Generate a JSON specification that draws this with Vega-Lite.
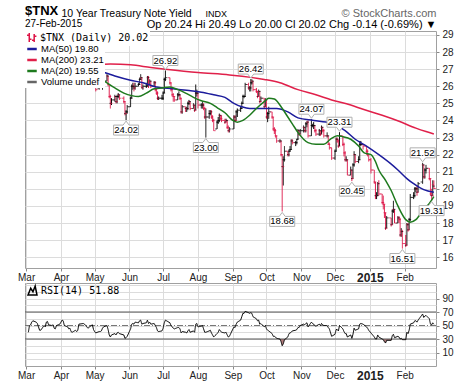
{
"$schema":"https://vega.github.io/schema/vega-lite/v6.json",
"background":"white",
"padding":{"left":17,"top":4,"right":0,"bottom":0},
"bounds":"flush",
"spacing":15,
"resolve":{"scale":{"strokeDash":"independent","color":"independent"},"legend":{"strokeDash":"independent","color":"independent"}},
"config":{"view":{"stroke":"#a0a0a0","strokeWidth":1},"font":"Liberation Sans","axis":{"domain":false,"labelFont":"Liberation Sans","labelFontSize":10,"labelColor":"#222","gridColor":"#dcdcdc","tickColor":"#888","tickSize":3}},
"title":{"text":"$TNX","subtitle":"27-Feb-2015","anchor":"start","frame":"group","offset":-22,"font":"Liberation Sans","fontSize":13,"fontWeight":"bold","color":"black","subtitleFont":"Liberation Sans","subtitleFontSize":10,"subtitleColor":"black","subtitlePadding":1},
"datasets":{
"px":[
{"d":"2014-03-03","o":26.3,"h":26.4,"l":25.9,"c":26.0,"r":40},
{"d":"2014-03-04","o":26.2,"h":27.1,"l":26.1,"c":27.0,"r":50},
{"d":"2014-03-05","o":27.0,"h":27.1,"l":26.7,"c":27.0,"r":51},
{"d":"2014-03-06","o":27.0,"h":27.5,"l":26.9,"c":27.4,"r":55},
{"d":"2014-03-07","o":27.6,"h":28.1,"l":27.5,"c":27.9,"r":57},
{"d":"2014-03-10","o":27.8,"h":27.9,"l":27.6,"c":27.8,"r":55},
{"d":"2014-03-11","o":27.8,"h":27.9,"l":27.6,"c":27.7,"r":53},
{"d":"2014-03-12","o":27.6,"h":27.7,"l":27.2,"c":27.3,"r":48},
{"d":"2014-03-13","o":27.3,"h":27.4,"l":26.4,"c":26.5,"r":43},
{"d":"2014-03-14","o":26.5,"h":26.7,"l":26.3,"c":26.5,"r":43},
{"d":"2014-03-17","o":26.7,"h":27.0,"l":26.6,"c":26.9,"r":50},
{"d":"2014-03-18","o":26.9,"h":26.9,"l":26.6,"c":26.7,"r":48},
{"d":"2014-03-19","o":26.7,"h":27.8,"l":26.6,"c":27.7,"r":55},
{"d":"2014-03-20","o":27.7,"h":28.0,"l":27.6,"c":27.9,"r":56},
{"d":"2014-03-21","o":27.8,"h":27.9,"l":27.3,"c":27.4,"r":51},
{"d":"2014-03-24","o":27.4,"h":27.5,"l":27.2,"c":27.3,"r":50},
{"d":"2014-03-25","o":27.3,"h":27.6,"l":27.2,"c":27.5,"r":51},
{"d":"2014-03-26","o":27.5,"h":27.5,"l":26.9,"c":26.9,"r":46},
{"d":"2014-03-27","o":26.9,"h":27.0,"l":26.6,"c":26.8,"r":45},
{"d":"2014-03-28","o":26.8,"h":27.3,"l":26.8,"c":27.2,"r":50},
{"d":"2014-03-31","o":27.2,"h":27.4,"l":27.1,"c":27.2,"r":52},
{"d":"2014-04-01","o":27.3,"h":27.7,"l":27.2,"c":27.6,"r":55},
{"d":"2014-04-02","o":27.6,"h":28.1,"l":27.5,"c":28.0,"r":58},
{"d":"2014-04-03","o":28.0,"h":28.2,"l":27.9,"c":28.0,"r":57},
{"d":"2014-04-04","o":28.0,"h":28.1,"l":27.1,"c":27.2,"r":50},
{"d":"2014-04-07","o":27.2,"h":27.3,"l":26.9,"c":27.0,"r":48},
{"d":"2014-04-08","o":27.0,"h":27.1,"l":26.7,"c":26.8,"r":45},
{"d":"2014-04-09","o":26.8,"h":27.0,"l":26.7,"c":26.9,"r":46},
{"d":"2014-04-10","o":26.9,"h":26.9,"l":26.2,"c":26.3,"r":41},
{"d":"2014-04-11","o":26.3,"h":26.4,"l":26.1,"c":26.2,"r":40},
{"d":"2014-04-14","o":26.3,"h":26.6,"l":26.2,"c":26.5,"r":43},
{"d":"2014-04-15","o":26.5,"h":26.6,"l":26.2,"c":26.3,"r":41},
{"d":"2014-04-16","o":26.3,"h":26.5,"l":26.3,"c":26.4,"r":43},
{"d":"2014-04-17","o":26.4,"h":27.3,"l":26.4,"c":27.2,"r":52},
{"d":"2014-04-21","o":27.2,"h":27.3,"l":27.0,"c":27.2,"r":53},
{"d":"2014-04-22","o":27.2,"h":27.3,"l":27.1,"c":27.2,"r":52},
{"d":"2014-04-23","o":27.2,"h":27.2,"l":26.9,"c":27.0,"r":50},
{"d":"2014-04-24","o":27.0,"h":27.1,"l":26.7,"c":26.8,"r":48},
{"d":"2014-04-25","o":26.8,"h":26.8,"l":26.5,"c":26.6,"r":46},
{"d":"2014-04-28","o":26.6,"h":27.0,"l":26.6,"c":26.9,"r":50},
{"d":"2014-04-29","o":26.9,"h":27.1,"l":26.8,"c":27.0,"r":51},
{"d":"2014-04-30","o":27.0,"h":27.0,"l":26.4,"c":26.5,"r":44},
{"d":"2014-05-01","o":26.4,"h":26.5,"l":26.0,"c":26.1,"r":41},
{"d":"2014-05-02","o":26.1,"h":26.5,"l":25.7,"c":25.8,"r":39},
{"d":"2014-05-05","o":25.9,"h":26.1,"l":25.8,"c":26.0,"r":41},
{"d":"2014-05-06","o":26.0,"h":26.2,"l":25.9,"c":26.0,"r":41},
{"d":"2014-05-07","o":26.0,"h":26.1,"l":25.9,"c":26.0,"r":42},
{"d":"2014-05-08","o":26.0,"h":26.3,"l":25.8,"c":26.2,"r":46},
{"d":"2014-05-09","o":26.2,"h":26.4,"l":26.1,"c":26.3,"r":48},
{"d":"2014-05-12","o":26.3,"h":26.7,"l":26.3,"c":26.6,"r":50},
{"d":"2014-05-13","o":26.6,"h":26.6,"l":26.0,"c":26.1,"r":44},
{"d":"2014-05-14","o":26.1,"h":26.1,"l":25.3,"c":25.4,"r":36},
{"d":"2014-05-15","o":25.4,"h":25.5,"l":24.7,"c":25.0,"r":33},
{"d":"2014-05-16","o":25.0,"h":25.3,"l":24.9,"c":25.2,"r":36},
{"d":"2014-05-19","o":25.2,"h":25.5,"l":25.1,"c":25.4,"r":38},
{"d":"2014-05-20","o":25.4,"h":25.4,"l":25.0,"c":25.1,"r":36},
{"d":"2014-05-21","o":25.1,"h":25.5,"l":25.0,"c":25.4,"r":39},
{"d":"2014-05-22","o":25.4,"h":25.6,"l":25.3,"c":25.5,"r":40},
{"d":"2014-05-23","o":25.5,"h":25.5,"l":25.2,"c":25.3,"r":38},
{"d":"2014-05-27","o":25.3,"h":25.4,"l":25.0,"c":25.1,"r":36},
{"d":"2014-05-28","o":25.1,"h":25.1,"l":24.3,"c":24.4,"r":31},
{"d":"2014-05-29","o":24.4,"h":24.6,"l":24.02,"c":24.5,"r":32},
{"d":"2014-05-30","o":24.5,"h":24.9,"l":24.4,"c":24.8,"r":34},
{"d":"2014-06-02","o":24.8,"h":25.4,"l":24.8,"c":25.3,"r":45},
{"d":"2014-06-03","o":25.3,"h":26.1,"l":25.3,"c":26.0,"r":52},
{"d":"2014-06-04","o":26.0,"h":26.2,"l":25.8,"c":26.0,"r":53},
{"d":"2014-06-05","o":26.0,"h":26.2,"l":25.7,"c":25.9,"r":52},
{"d":"2014-06-06","o":25.9,"h":26.2,"l":25.8,"c":26.0,"r":55},
{"d":"2014-06-09","o":26.0,"h":26.2,"l":26.0,"c":26.1,"r":54},
{"d":"2014-06-10","o":26.1,"h":26.5,"l":26.1,"c":26.4,"r":57},
{"d":"2014-06-11","o":26.4,"h":26.7,"l":26.4,"c":26.5,"r":58},
{"d":"2014-06-12","o":26.5,"h":26.5,"l":25.9,"c":25.9,"r":52},
{"d":"2014-06-13","o":25.9,"h":26.1,"l":25.8,"c":26.0,"r":53},
{"d":"2014-06-16","o":26.0,"h":26.2,"l":25.9,"c":26.0,"r":54},
{"d":"2014-06-17","o":26.0,"h":26.6,"l":26.0,"c":26.5,"r":58},
{"d":"2014-06-18","o":26.5,"h":26.6,"l":25.9,"c":26.1,"r":53},
{"d":"2014-06-19","o":26.1,"h":26.4,"l":26.1,"c":26.3,"r":55},
{"d":"2014-06-20","o":26.3,"h":26.3,"l":25.9,"c":26.0,"r":52},
{"d":"2014-06-23","o":26.0,"h":26.3,"l":26.0,"c":26.2,"r":53},
{"d":"2014-06-24","o":26.2,"h":26.3,"l":25.7,"c":25.8,"r":50},
{"d":"2014-06-25","o":25.8,"h":25.9,"l":25.5,"c":25.6,"r":47},
{"d":"2014-06-26","o":25.6,"h":25.7,"l":25.2,"c":25.3,"r":42},
{"d":"2014-06-27","o":25.3,"h":25.4,"l":25.2,"c":25.3,"r":41},
{"d":"2014-06-30","o":25.3,"h":25.5,"l":25.2,"c":25.3,"r":42},
{"d":"2014-07-01","o":25.3,"h":25.7,"l":25.2,"c":25.6,"r":46},
{"d":"2014-07-02","o":25.6,"h":26.5,"l":25.6,"c":26.4,"r":54},
{"d":"2014-07-03","o":26.4,"h":26.92,"l":26.3,"c":26.5,"r":58},
{"d":"2014-07-07","o":26.5,"h":26.5,"l":26.1,"c":26.2,"r":54},
{"d":"2014-07-08","o":26.2,"h":26.2,"l":25.7,"c":25.8,"r":50},
{"d":"2014-07-09","o":25.8,"h":25.9,"l":25.4,"c":25.5,"r":48},
{"d":"2014-07-10","o":25.5,"h":25.6,"l":25.1,"c":25.4,"r":46},
{"d":"2014-07-11","o":25.4,"h":25.4,"l":25.1,"c":25.2,"r":45},
{"d":"2014-07-14","o":25.2,"h":25.6,"l":25.2,"c":25.5,"r":47},
{"d":"2014-07-15","o":25.5,"h":25.7,"l":25.4,"c":25.5,"r":47},
{"d":"2014-07-16","o":25.5,"h":25.5,"l":25.2,"c":25.3,"r":45},
{"d":"2014-07-17","o":25.3,"h":25.3,"l":24.4,"c":24.5,"r":39},
{"d":"2014-07-18","o":24.5,"h":24.9,"l":24.4,"c":24.8,"r":41},
{"d":"2014-07-21","o":24.8,"h":24.8,"l":24.5,"c":24.7,"r":40},
{"d":"2014-07-22","o":24.7,"h":24.8,"l":24.5,"c":24.7,"r":39},
{"d":"2014-07-23","o":24.7,"h":25.1,"l":24.6,"c":25.0,"r":42},
{"d":"2014-07-24","o":25.0,"h":25.2,"l":24.9,"c":25.1,"r":44},
{"d":"2014-07-25","o":25.1,"h":25.1,"l":24.6,"c":24.7,"r":40},
{"d":"2014-07-28","o":24.7,"h":25.0,"l":24.7,"c":24.9,"r":42},
{"d":"2014-07-29","o":24.9,"h":24.9,"l":24.5,"c":24.6,"r":40},
{"d":"2014-07-30","o":24.6,"h":26.1,"l":24.6,"c":25.6,"r":52},
{"d":"2014-07-31","o":25.6,"h":25.8,"l":25.4,"c":25.6,"r":53},
{"d":"2014-08-01","o":25.6,"h":25.6,"l":24.7,"c":24.9,"r":48},
{"d":"2014-08-04","o":24.9,"h":25.0,"l":24.7,"c":24.9,"r":49},
{"d":"2014-08-05","o":24.9,"h":25.1,"l":24.7,"c":24.9,"r":50},
{"d":"2014-08-06","o":24.9,"h":25.0,"l":24.6,"c":24.7,"r":45},
{"d":"2014-08-07","o":24.7,"h":24.8,"l":24.1,"c":24.2,"r":40},
{"d":"2014-08-08","o":24.2,"h":24.7,"l":23.0,"c":24.2,"r":40},
{"d":"2014-08-11","o":24.2,"h":24.6,"l":24.1,"c":24.4,"r":42},
{"d":"2014-08-12","o":24.4,"h":24.6,"l":24.3,"c":24.5,"r":43},
{"d":"2014-08-13","o":24.5,"h":24.6,"l":24.1,"c":24.2,"r":39},
{"d":"2014-08-14","o":24.2,"h":24.3,"l":23.9,"c":24.0,"r":36},
{"d":"2014-08-15","o":24.0,"h":24.1,"l":23.4,"c":23.4,"r":33},
{"d":"2014-08-18","o":23.5,"h":24.0,"l":23.5,"c":23.9,"r":38},
{"d":"2014-08-19","o":23.9,"h":24.2,"l":23.8,"c":24.0,"r":40},
{"d":"2014-08-20","o":24.0,"h":24.4,"l":23.9,"c":24.3,"r":44},
{"d":"2014-08-21","o":24.3,"h":24.3,"l":24.0,"c":24.1,"r":42},
{"d":"2014-08-22","o":24.1,"h":24.3,"l":23.9,"c":24.0,"r":40},
{"d":"2014-08-25","o":24.0,"h":24.1,"l":23.8,"c":23.9,"r":39},
{"d":"2014-08-26","o":23.9,"h":24.1,"l":23.9,"c":24.0,"r":40},
{"d":"2014-08-27","o":24.0,"h":24.0,"l":23.5,"c":23.6,"r":36},
{"d":"2014-08-28","o":23.6,"h":23.7,"l":23.3,"c":23.4,"r":33},
{"d":"2014-08-29","o":23.4,"h":23.6,"l":23.3,"c":23.5,"r":34},
{"d":"2014-09-02","o":23.5,"h":24.3,"l":23.5,"c":24.2,"r":48},
{"d":"2014-09-03","o":24.2,"h":24.3,"l":23.9,"c":24.0,"r":47},
{"d":"2014-09-04","o":24.0,"h":24.6,"l":24.0,"c":24.5,"r":52},
{"d":"2014-09-05","o":24.5,"h":24.7,"l":24.2,"c":24.6,"r":55},
{"d":"2014-09-08","o":24.6,"h":24.8,"l":24.5,"c":24.7,"r":58},
{"d":"2014-09-09","o":24.7,"h":25.1,"l":24.7,"c":25.0,"r":63},
{"d":"2014-09-10","o":25.0,"h":25.5,"l":25.0,"c":25.4,"r":68},
{"d":"2014-09-11","o":25.4,"h":25.5,"l":25.3,"c":25.4,"r":68},
{"d":"2014-09-12","o":25.4,"h":26.2,"l":25.4,"c":26.1,"r":71},
{"d":"2014-09-15","o":26.1,"h":26.2,"l":25.8,"c":25.9,"r":69},
{"d":"2014-09-16","o":25.9,"h":26.0,"l":25.7,"c":25.9,"r":68},
{"d":"2014-09-17","o":25.9,"h":26.42,"l":25.7,"c":26.2,"r":69},
{"d":"2014-09-18","o":26.2,"h":26.4,"l":26.1,"c":26.3,"r":68},
{"d":"2014-09-19","o":26.3,"h":26.3,"l":25.7,"c":25.8,"r":63},
{"d":"2014-09-22","o":25.8,"h":25.9,"l":25.6,"c":25.7,"r":60},
{"d":"2014-09-23","o":25.7,"h":25.7,"l":25.3,"c":25.4,"r":57},
{"d":"2014-09-24","o":25.4,"h":25.8,"l":25.4,"c":25.7,"r":58},
{"d":"2014-09-25","o":25.7,"h":25.7,"l":25.0,"c":25.1,"r":52},
{"d":"2014-09-26","o":25.1,"h":25.4,"l":25.1,"c":25.3,"r":53},
{"d":"2014-09-29","o":25.3,"h":25.3,"l":24.7,"c":24.8,"r":48},
{"d":"2014-09-30","o":24.8,"h":25.3,"l":24.8,"c":25.2,"r":50},
{"d":"2014-10-01","o":25.2,"h":25.2,"l":24.1,"c":24.2,"r":45},
{"d":"2014-10-02","o":24.2,"h":24.5,"l":23.9,"c":24.4,"r":43},
{"d":"2014-10-03","o":24.4,"h":24.8,"l":24.1,"c":24.5,"r":42},
{"d":"2014-10-06","o":24.5,"h":24.5,"l":24.1,"c":24.2,"r":38},
{"d":"2014-10-07","o":24.2,"h":24.2,"l":23.4,"c":23.5,"r":34},
{"d":"2014-10-08","o":23.5,"h":23.6,"l":23.2,"c":23.4,"r":34},
{"d":"2014-10-09","o":23.4,"h":23.5,"l":23.0,"c":23.1,"r":33},
{"d":"2014-10-10","o":23.1,"h":23.1,"l":22.7,"c":22.8,"r":31},
{"d":"2014-10-13","o":22.8,"h":22.9,"l":22.7,"c":22.8,"r":30},
{"d":"2014-10-14","o":22.8,"h":22.8,"l":21.9,"c":22.0,"r":26},
{"d":"2014-10-15","o":22.0,"h":22.0,"l":18.68,"c":21.3,"r":20},
{"d":"2014-10-16","o":21.3,"h":21.9,"l":20.2,"c":21.7,"r":23},
{"d":"2014-10-17","o":21.7,"h":22.5,"l":21.6,"c":22.2,"r":29},
{"d":"2014-10-20","o":22.2,"h":22.2,"l":21.9,"c":22.0,"r":33},
{"d":"2014-10-21","o":22.0,"h":22.3,"l":21.9,"c":22.2,"r":38},
{"d":"2014-10-22","o":22.2,"h":22.5,"l":22.2,"c":22.3,"r":39},
{"d":"2014-10-23","o":22.3,"h":22.9,"l":22.3,"c":22.8,"r":40},
{"d":"2014-10-24","o":22.8,"h":22.9,"l":22.6,"c":22.7,"r":42},
{"d":"2014-10-27","o":22.7,"h":22.8,"l":22.5,"c":22.7,"r":43},
{"d":"2014-10-28","o":22.7,"h":22.9,"l":22.6,"c":22.9,"r":44},
{"d":"2014-10-29","o":22.9,"h":23.5,"l":22.9,"c":23.4,"r":47},
{"d":"2014-10-30","o":23.4,"h":23.4,"l":23.1,"c":23.2,"r":47},
{"d":"2014-10-31","o":23.2,"h":23.5,"l":23.2,"c":23.4,"r":50},
{"d":"2014-11-03","o":23.4,"h":23.7,"l":23.3,"c":23.6,"r":52},
{"d":"2014-11-04","o":23.6,"h":23.6,"l":23.3,"c":23.4,"r":51},
{"d":"2014-11-05","o":23.4,"h":23.9,"l":23.3,"c":23.8,"r":53},
{"d":"2014-11-06","o":23.8,"h":23.95,"l":23.6,"c":23.9,"r":54},
{"d":"2014-11-07","o":23.9,"h":24.0,"l":23.0,"c":23.1,"r":48},
{"d":"2014-11-10","o":23.1,"h":24.07,"l":23.1,"c":23.7,"r":55},
{"d":"2014-11-11","o":23.7,"h":23.8,"l":23.6,"c":23.7,"r":53},
{"d":"2014-11-12","o":23.7,"h":23.9,"l":23.5,"c":23.7,"r":52},
{"d":"2014-11-13","o":23.7,"h":23.7,"l":23.3,"c":23.4,"r":50},
{"d":"2014-11-14","o":23.4,"h":23.5,"l":23.1,"c":23.2,"r":49},
{"d":"2014-11-17","o":23.2,"h":23.5,"l":23.1,"c":23.4,"r":52},
{"d":"2014-11-18","o":23.4,"h":23.4,"l":23.1,"c":23.2,"r":50},
{"d":"2014-11-19","o":23.2,"h":23.7,"l":23.2,"c":23.6,"r":53},
{"d":"2014-11-20","o":23.6,"h":23.6,"l":23.3,"c":23.4,"r":51},
{"d":"2014-11-21","o":23.4,"h":23.5,"l":23.0,"c":23.1,"r":50},
{"d":"2014-11-24","o":23.1,"h":23.3,"l":23.0,"c":23.1,"r":50},
{"d":"2014-11-25","o":23.1,"h":23.1,"l":22.6,"c":22.6,"r":47},
{"d":"2014-11-26","o":22.6,"h":22.7,"l":22.3,"c":22.4,"r":45},
{"d":"2014-11-28","o":22.4,"h":22.4,"l":21.7,"c":21.8,"r":34},
{"d":"2014-12-01","o":21.8,"h":22.3,"l":21.7,"c":22.2,"r":37},
{"d":"2014-12-02","o":22.2,"h":23.0,"l":22.2,"c":22.9,"r":44},
{"d":"2014-12-03","o":22.9,"h":23.0,"l":22.7,"c":22.8,"r":44},
{"d":"2014-12-04","o":22.8,"h":22.9,"l":22.4,"c":22.5,"r":42},
{"d":"2014-12-05","o":22.5,"h":23.31,"l":22.5,"c":23.1,"r":50},
{"d":"2014-12-08","o":23.1,"h":23.1,"l":22.5,"c":22.6,"r":45},
{"d":"2014-12-09","o":22.6,"h":22.7,"l":21.9,"c":22.1,"r":41},
{"d":"2014-12-10","o":22.1,"h":22.2,"l":21.6,"c":21.7,"r":38},
{"d":"2014-12-11","o":21.7,"h":21.9,"l":21.6,"c":21.7,"r":38},
{"d":"2014-12-12","o":21.7,"h":21.7,"l":20.8,"c":20.8,"r":33},
{"d":"2014-12-15","o":20.8,"h":21.3,"l":20.8,"c":21.1,"r":36},
{"d":"2014-12-16","o":21.1,"h":21.1,"l":20.45,"c":20.6,"r":31},
{"d":"2014-12-17","o":20.6,"h":21.5,"l":20.6,"c":21.4,"r":37},
{"d":"2014-12-18","o":21.4,"h":22.2,"l":21.3,"c":22.0,"r":46},
{"d":"2014-12-19","o":22.0,"h":22.0,"l":21.5,"c":21.6,"r":43},
{"d":"2014-12-22","o":21.6,"h":21.9,"l":21.5,"c":21.7,"r":45},
{"d":"2014-12-23","o":21.7,"h":22.8,"l":21.7,"c":22.6,"r":52},
{"d":"2014-12-24","o":22.6,"h":22.8,"l":22.5,"c":22.6,"r":53},
{"d":"2014-12-26","o":22.6,"h":22.6,"l":22.3,"c":22.5,"r":52},
{"d":"2014-12-29","o":22.5,"h":22.5,"l":22.0,"c":22.2,"r":48},
{"d":"2014-12-30","o":22.2,"h":22.3,"l":21.9,"c":22.0,"r":46},
{"d":"2014-12-31","o":22.0,"h":22.0,"l":21.6,"c":21.7,"r":43},
{"d":"2015-01-02","o":21.7,"h":21.8,"l":20.9,"c":21.1,"r":39},
{"d":"2015-01-05","o":21.1,"h":21.1,"l":20.3,"c":20.4,"r":33},
{"d":"2015-01-06","o":20.4,"h":20.4,"l":19.4,"c":19.6,"r":30},
{"d":"2015-01-07","o":19.6,"h":19.8,"l":19.4,"c":19.6,"r":30},
{"d":"2015-01-08","o":19.6,"h":20.4,"l":19.6,"c":20.3,"r":36},
{"d":"2015-01-09","o":20.3,"h":20.5,"l":19.6,"c":19.7,"r":33},
{"d":"2015-01-12","o":19.7,"h":19.7,"l":19.1,"c":19.2,"r":30},
{"d":"2015-01-13","o":19.2,"h":19.6,"l":18.8,"c":19.1,"r":29},
{"d":"2015-01-14","o":19.1,"h":19.1,"l":18.3,"c":18.6,"r":26},
{"d":"2015-01-15","o":18.6,"h":18.6,"l":17.6,"c":17.7,"r":24},
{"d":"2015-01-16","o":17.7,"h":18.4,"l":17.7,"c":18.3,"r":28},
{"d":"2015-01-20","o":18.3,"h":18.3,"l":17.8,"c":17.9,"r":28},
{"d":"2015-01-21","o":17.9,"h":18.8,"l":17.9,"c":18.7,"r":35},
{"d":"2015-01-22","o":18.7,"h":19.3,"l":18.6,"c":18.8,"r":37},
{"d":"2015-01-23","o":18.8,"h":18.8,"l":18.0,"c":18.0,"r":32},
{"d":"2015-01-26","o":18.0,"h":18.4,"l":18.0,"c":18.3,"r":34},
{"d":"2015-01-27","o":18.3,"h":18.4,"l":18.0,"c":18.2,"r":33},
{"d":"2015-01-28","o":18.2,"h":18.3,"l":17.2,"c":17.3,"r":30},
{"d":"2015-01-29","o":17.3,"h":17.7,"l":17.2,"c":17.5,"r":31},
{"d":"2015-01-30","o":17.5,"h":17.6,"l":16.51,"c":16.8,"r":29},
{"d":"2015-02-02","o":16.8,"h":17.3,"l":16.6,"c":16.7,"r":29},
{"d":"2015-02-03","o":16.7,"h":18.0,"l":16.7,"c":17.9,"r":40},
{"d":"2015-02-04","o":17.9,"h":18.0,"l":17.5,"c":17.6,"r":38},
{"d":"2015-02-05","o":17.6,"h":18.3,"l":17.6,"c":18.2,"r":43},
{"d":"2015-02-06","o":18.2,"h":19.7,"l":18.1,"c":19.5,"r":52},
{"d":"2015-02-09","o":19.5,"h":19.8,"l":19.4,"c":19.6,"r":54},
{"d":"2015-02-10","o":19.6,"h":20.1,"l":19.5,"c":20.0,"r":57},
{"d":"2015-02-11","o":20.0,"h":20.1,"l":19.8,"c":20.0,"r":57},
{"d":"2015-02-12","o":20.0,"h":20.2,"l":19.6,"c":19.8,"r":55},
{"d":"2015-02-13","o":19.8,"h":20.4,"l":19.8,"c":20.3,"r":58},
{"d":"2015-02-17","o":20.4,"h":21.52,"l":20.3,"c":21.4,"r":67},
{"d":"2015-02-18","o":21.4,"h":21.4,"l":20.6,"c":20.7,"r":62},
{"d":"2015-02-19","o":20.7,"h":21.2,"l":20.6,"c":21.1,"r":64},
{"d":"2015-02-20","o":21.1,"h":21.4,"l":20.9,"c":21.2,"r":65},
{"d":"2015-02-23","o":21.2,"h":21.2,"l":20.5,"c":20.6,"r":60},
{"d":"2015-02-24","o":20.6,"h":20.6,"l":19.6,"c":19.7,"r":52},
{"d":"2015-02-25","o":19.7,"h":20.0,"l":19.31,"c":19.6,"r":51},
{"d":"2015-02-26","o":19.6,"h":20.5,"l":19.6,"c":20.16,"r":54},
{"d":"2015-02-27","o":20.24,"h":20.49,"l":20.0,"c":20.02,"r":51.88}
],
"ma50":[
{"d":"2014-03-03","v":27.7},{"d":"2014-03-17","v":27.5},{"d":"2014-03-31","v":27.3},{"d":"2014-04-14","v":27.2},{"d":"2014-04-28","v":27.05},{"d":"2014-05-05","v":26.9},{"d":"2014-05-19","v":26.6},{"d":"2014-06-02","v":26.35},{"d":"2014-06-13","v":26.2},{"d":"2014-06-25","v":25.95},{"d":"2014-07-10","v":25.85},{"d":"2014-07-24","v":25.75},{"d":"2014-08-04","v":25.65},{"d":"2014-08-15","v":25.5},{"d":"2014-08-25","v":25.35},{"d":"2014-09-02","v":25.0},{"d":"2014-09-09","v":24.8},{"d":"2014-09-16","v":24.7},{"d":"2014-09-30","v":24.7},{"d":"2014-10-10","v":24.7},{"d":"2014-10-20","v":24.5},{"d":"2014-10-29","v":24.15},{"d":"2014-11-12","v":24.0},{"d":"2014-11-27","v":23.85},{"d":"2014-12-10","v":23.4},{"d":"2014-12-19","v":22.9},{"d":"2014-12-29","v":22.5},{"d":"2015-01-09","v":22.0},{"d":"2015-01-19","v":21.5},{"d":"2015-01-26","v":21.1},{"d":"2015-02-03","v":20.6},{"d":"2015-02-09","v":20.3},{"d":"2015-02-18","v":19.95},{"d":"2015-02-27","v":19.8}
],
"ma200":[
{"d":"2014-03-03","v":26.8},{"d":"2014-03-31","v":27.05},{"d":"2014-04-30","v":27.25},{"d":"2014-05-15","v":27.3},{"d":"2014-06-02","v":27.25},{"d":"2014-06-20","v":27.1},{"d":"2014-07-03","v":27.0},{"d":"2014-08-01","v":26.8},{"d":"2014-08-29","v":26.66},{"d":"2014-09-29","v":26.4},{"d":"2014-10-13","v":26.2},{"d":"2014-10-29","v":25.8},{"d":"2014-11-14","v":25.5},{"d":"2014-11-28","v":25.2},{"d":"2014-12-15","v":24.9},{"d":"2014-12-26","v":24.65},{"d":"2015-01-12","v":24.3},{"d":"2015-01-27","v":23.95},{"d":"2015-02-11","v":23.55},{"d":"2015-02-20","v":23.35},{"d":"2015-02-27","v":23.21}
],
"ma20":[
{"d":"2014-03-03","v":27.0},{"d":"2014-03-10","v":27.2},{"d":"2014-03-17","v":27.3},{"d":"2014-03-24","v":27.35},{"d":"2014-03-31","v":27.3},{"d":"2014-04-07","v":27.3},{"d":"2014-04-14","v":27.1},{"d":"2014-04-21","v":26.95},{"d":"2014-04-28","v":26.85},{"d":"2014-05-05","v":26.5},{"d":"2014-05-12","v":26.2},{"d":"2014-05-19","v":25.9},{"d":"2014-05-27","v":25.6},{"d":"2014-06-03","v":25.45},{"d":"2014-06-09","v":25.4},{"d":"2014-06-16","v":25.6},{"d":"2014-06-23","v":25.85},{"d":"2014-06-30","v":25.9},{"d":"2014-07-07","v":25.95},{"d":"2014-07-14","v":25.8},{"d":"2014-07-21","v":25.6},{"d":"2014-07-28","v":25.35},{"d":"2014-08-04","v":25.15},{"d":"2014-08-12","v":25.0},{"d":"2014-08-18","v":24.75},{"d":"2014-08-25","v":24.45},{"d":"2014-09-01","v":24.0},{"d":"2014-09-05","v":23.9},{"d":"2014-09-10","v":24.0},{"d":"2014-09-16","v":24.3},{"d":"2014-09-22","v":24.7},{"d":"2014-09-29","v":25.1},{"d":"2014-10-03","v":25.3},{"d":"2014-10-08","v":25.25},{"d":"2014-10-14","v":24.8},{"d":"2014-10-20","v":24.2},{"d":"2014-10-24","v":23.8},{"d":"2014-10-29","v":23.3},{"d":"2014-11-03","v":22.9},{"d":"2014-11-07","v":22.7},{"d":"2014-11-14","v":22.6},{"d":"2014-11-21","v":22.6},{"d":"2014-11-27","v":22.9},{"d":"2014-12-03","v":23.1},{"d":"2014-12-08","v":23.05},{"d":"2014-12-15","v":22.9},{"d":"2014-12-22","v":22.5},{"d":"2014-12-27","v":22.1},{"d":"2015-01-02","v":22.0},{"d":"2015-01-06","v":21.6},{"d":"2015-01-09","v":21.1},{"d":"2015-01-15","v":20.5},{"d":"2015-01-20","v":19.9},{"d":"2015-01-26","v":19.0},{"d":"2015-02-02","v":18.2},{"d":"2015-02-06","v":18.05},{"d":"2015-02-11","v":18.2},{"d":"2015-02-18","v":18.8},{"d":"2015-02-23","v":19.15},{"d":"2015-02-27","v":19.55}
],
"hi":[{"d":"2014-07-03","v":26.92},{"d":"2014-09-17","v":26.42},{"d":"2014-11-10","v":24.07},{"d":"2014-12-05","v":23.31},{"d":"2015-02-17","v":21.52}],
"lo":[{"d":"2014-05-29","v":24.02},{"d":"2014-08-08","v":23.0},{"d":"2014-10-15","v":18.68},{"d":"2014-12-16","v":20.45},{"d":"2015-01-30","v":16.51},{"d":"2015-02-25","v":19.31}],
"lv":[{"v":30},{"v":70}],
"mid":[{"v":50}]
},
"vconcat":[
{
"width":411,"height":237,
"layer":[
{
"data":{"name":"px"},
"transform":[{"window":[{"op":"lag","field":"c","as":"pc"}]}],
"layer":[
{"mark":{"type":"rule","strokeWidth":1},
 "encoding":{
  "x":{"field":"d","type":"temporal","scale":{"type":"utc","domain":[{"year":2014,"month":2,"date":28,"utc":true},{"year":2015,"month":2,"date":28,"hours":22,"utc":true}]},
   "axis":{"orient":"bottom","tickCount":{"interval":"month","step":1},"labelExpr":"utcmonth(datum.value) == 0 ? utcFormat(datum.value, '%Y') : utcFormat(datum.value, '%b')","labelFontWeight":{"condition":{"test":"utcmonth(datum.value) == 0","value":"bold"},"value":"normal"},"labelFontSize":{"condition":{"test":"utcmonth(datum.value) == 0","value":12},"value":10},"labelOverlap":false,"labelFlush":false,"labelAlign":"center","labelPadding":1,"grid":true,
   "title":"10 Year Treasury Note Yield","titleX":36,"titleY":-252,"titleAngle":0,"titleAlign":"left","titleBaseline":"alphabetic","titleFontSize":10.5,"titleFontWeight":"normal","titleColor":"#000","titleLimit":1000,"titleFont":"Liberation Sans"}},
  "y":{"field":"l","type":"quantitative","scale":{"domain":[15.37,29.23],"nice":false,"zero":false},
   "axis":{"orient":"right","values":[16,17,18,19,20,21,22,23,24,25,26,27,28,29],"tickCount":100,"format":"d","grid":true,"labelPadding":3,"labelOverlap":false,
   "title":"Op 20.24   Hi 20.49   Lo 20.00   Cl 20.02   Chg -0.14 (-0.69%) ▼","titleX":0,"titleY":-4,"titleAngle":0,"titleAlign":"right","titleBaseline":"alphabetic","titleFontSize":11,"titleFontWeight":"normal","titleColor":"#000","titleLimit":1000,"titleFont":"Liberation Sans"}},
  "y2":{"field":"h"},
  "color":{"condition":{"test":"datum.pc != null && datum.c >= datum.pc","value":"#000000"},"value":"#dd1144"},
  "strokeDash":{"datum":"$TNX (Daily) 20.02","scale":{"range":[[1,0]]},
   "legend":{"orient":"none","legendX":0,"legendY":0,"title":null,"fillColor":"white","padding":1,"zindex":1,"symbolType":"M-0.5,-1V1M-1,-0.5H-0.5M-0.5,0.4H0M0.6,-0.8V1M0.1,0.6H0.6M0.6,-0.3H1.1","symbolSize":80,"labelFont":"DejaVu Sans Mono","labelFontSize":10,"labelColor":"#000","labelOffset":3,
   "encode":{"symbols":{"stroke":{"value":"#000"},"strokeWidth":{"value":1}}}}}
 }},
{"mark":{"type":"tick","orient":"horizontal","size":2,"thickness":1,"xOffset":-1},
 "encoding":{"x":{"field":"d","type":"temporal"},"y":{"field":"o","type":"quantitative"},
  "color":{"condition":{"test":"datum.pc != null && datum.c >= datum.pc","value":"#000000"},"value":"#dd1144"}}},
{"mark":{"type":"tick","orient":"horizontal","size":2,"thickness":1,"xOffset":1},
 "encoding":{"x":{"field":"d","type":"temporal"},"y":{"field":"c","type":"quantitative"},
  "color":{"condition":{"test":"datum.pc != null && datum.c >= datum.pc","value":"#000000"},"value":"#dd1144"}}}
]
},
{"data":{"name":"ma200"},"mark":{"type":"line","strokeWidth":1.5,"interpolate":"monotone"},
 "encoding":{"x":{"field":"d","type":"temporal"},"y":{"field":"v","type":"quantitative"},
  "color":{"datum":"MA(200) 23.21","scale":{"domain":["MA(50) 19.80","MA(200) 23.21","MA(20) 19.55","Volume undef"],"range":["#1c1c9c","#e0204a","#1e7a1e","#666666"]},
   "legend":{"orient":"none","legendX":0,"legendY":11,"title":null,"fillColor":"white","padding":1,"zindex":1,"symbolType":"stroke","symbolSize":90,"symbolStrokeWidth":2.5,"labelFont":"Liberation Sans","labelFontSize":9.5,"rowPadding":0,"labelOffset":3,
   "encode":{"labels":{"fill":{"signal":"datum.value == 'MA(50) 19.80' ? '#1c1c9c' : datum.value == 'MA(200) 23.21' ? '#e0204a' : datum.value == 'MA(20) 19.55' ? '#1e7a1e' : '#555555'"}}}}}}},
{"data":{"name":"ma50"},"mark":{"type":"line","strokeWidth":1.5,"interpolate":"monotone"},
 "encoding":{"x":{"field":"d","type":"temporal"},"y":{"field":"v","type":"quantitative"},"color":{"datum":"MA(50) 19.80"}}},
{"data":{"name":"ma20"},"mark":{"type":"line","strokeWidth":1.5,"interpolate":"monotone"},
 "encoding":{"x":{"field":"d","type":"temporal"},"y":{"field":"v","type":"quantitative"},"color":{"datum":"MA(20) 19.55"}}},
{"data":{"name":"hi"},"mark":{"type":"point","shape":"M0,-1L3,-5H12.5V-15H-12.5V-5H-3Z","size":4,"filled":true,"fill":"white","stroke":"#b0b0b0","strokeWidth":1,"opacity":1},
 "encoding":{"x":{"field":"d","type":"temporal"},"y":{"field":"v","type":"quantitative"}}},
{"data":{"name":"hi"},"mark":{"type":"text","dy":-10,"baseline":"middle","align":"center","fontSize":9.5,"font":"Liberation Sans","color":"#000"},
 "encoding":{"x":{"field":"d","type":"temporal"},"y":{"field":"v","type":"quantitative"},"text":{"field":"v","type":"quantitative","format":".2f"}}},
{"data":{"name":"lo"},"mark":{"type":"point","shape":"M0,1L3,5H12.5V15H-12.5V5H-3Z","size":4,"filled":true,"fill":"white","stroke":"#b0b0b0","strokeWidth":1,"opacity":1},
 "encoding":{"x":{"field":"d","type":"temporal"},"y":{"field":"v","type":"quantitative"}}},
{"data":{"name":"lo"},"mark":{"type":"text","dy":10,"baseline":"middle","align":"center","fontSize":9.5,"font":"Liberation Sans","color":"#000"},
 "encoding":{"x":{"field":"d","type":"temporal"},"y":{"field":"v","type":"quantitative"},"text":{"field":"v","type":"quantitative","format":".2f"}}}
]
},
{
"width":411,"height":83,
"layer":[
{"data":{"name":"px"},"transform":[{"calculate":"min(datum.r, 30)","as":"rlo"}],
 "mark":{"type":"area","color":"#b27d7d","opacity":1},
 "encoding":{
  "x":{"field":"d","type":"temporal","scale":{"type":"utc","domain":[{"year":2014,"month":2,"date":28,"utc":true},{"year":2015,"month":2,"date":28,"hours":22,"utc":true}]},
   "axis":{"orient":"bottom","tickCount":{"interval":"month","step":1},"labelExpr":"utcmonth(datum.value) == 0 ? utcFormat(datum.value, '%Y') : utcFormat(datum.value, '%b')","labelFontWeight":{"condition":{"test":"utcmonth(datum.value) == 0","value":"bold"},"value":"normal"},"labelFontSize":{"condition":{"test":"utcmonth(datum.value) == 0","value":12},"value":10},"labelOverlap":false,"labelFlush":false,"labelAlign":"center","labelPadding":1,"grid":true,
   "title":"INDX","titleX":180,"titleY":-350,"titleAngle":0,"titleAlign":"left","titleBaseline":"alphabetic","titleFontSize":9,"titleFontWeight":"normal","titleColor":"#000","titleLimit":1000,"titleFont":"Liberation Sans"}},
  "y":{"field":"rlo","type":"quantitative","scale":{"domain":[-10,113],"nice":false,"zero":false},
   "axis":{"orient":"right","values":[0,10,20,30,40,50,60,70,80,90,100,110],"tickCount":100,"format":"d","grid":true,"labelPadding":3,"labelOverlap":false,
    "labelExpr":"(datum.value % 20 == 10 && datum.value < 100) ? datum.label : ''","tickOpacity":{"condition":{"test":"datum.value % 20 == 10 && datum.value < 100","value":1},"value":0},
    "title":"© StockCharts.com","titleX":0,"titleY":-267,"titleAngle":0,"titleAlign":"right","titleBaseline":"alphabetic","titleFontSize":11,"titleFontWeight":"normal","titleColor":"#666666","titleLimit":1000,"titleFont":"Liberation Sans"}},
  "y2":{"datum":30}
 }},
{"data":{"name":"lv"},"mark":{"type":"rule","color":"#555555","strokeWidth":1},
 "encoding":{"y":{"field":"v","type":"quantitative"}}},
{"data":{"name":"mid"},"mark":{"type":"rule","color":"#777777","strokeWidth":1,"strokeDash":[6,2,1,2]},
 "encoding":{"y":{"field":"v","type":"quantitative"}}},
{"data":{"name":"px"},"mark":{"type":"line","color":"#000","strokeWidth":1},
 "encoding":{"x":{"field":"d","type":"temporal"},"y":{"field":"r","type":"quantitative"},
  "strokeDash":{"datum":"RSI(14) 51.88","scale":{"range":[[1,0]]},
   "legend":{"orient":"none","legendX":1,"legendY":1,"title":null,"padding":1,"zindex":1,"symbolType":"M-1,1L-0.4,-0.5L0.1,0.3L0.6,-1L1,1Z","symbolSize":80,"labelFont":"DejaVu Sans Mono","labelFontSize":10,"labelColor":"#000","labelOffset":3,
   "encode":{"symbols":{"fill":{"value":"#6a9a6a"},"stroke":{"value":"#3a6a3a"},"strokeWidth":{"value":1}}}}}}}
]
}
]
}
